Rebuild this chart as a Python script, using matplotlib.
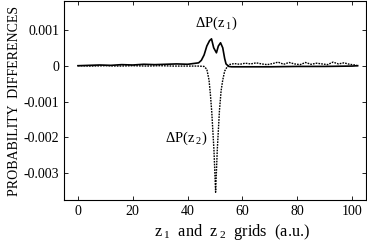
import matplotlib
matplotlib.use('Agg')
import matplotlib.pyplot as plt

plt.rcParams['font.family'] = ['Liberation Serif', 'DejaVu Serif']
plt.rcParams['mathtext.fontset'] = 'custom'
plt.rcParams['mathtext.rm'] = 'Liberation Serif'
plt.rcParams['mathtext.it'] = 'Liberation Serif'

# delta P(z1), solid line (values in units of 1e-4)
z1_grid = [0, 4, 8, 12, 16, 20, 24, 28, 32, 36, 40, 42, 44, 45, 46, 47, 48,
           48.7, 49.5, 50.5, 51.2, 52, 52.8, 53.5, 54, 55, 56, 60, 70, 80,
           90, 100, 102]
z1_diff = [0.0, 0.1, 0.2, 0.1, 0.3, 0.2, 0.4, 0.3, 0.4, 0.5, 0.4, 0.6, 0.8,
           1.5, 3.0, 5.5, 7.0, 7.5, 5.0, 3.6, 5.5, 6.4, 5.0, 2.0, 0.5, -0.2,
           -0.3, -0.3, -0.3, -0.2, -0.2, -0.1, 0.0]

# delta P(z2), dashed line (values in units of 1e-4)
z2_grid = [0, 5, 10, 15, 20, 25, 30, 35, 40, 44, 46, 47, 47.8, 48.3, 48.8,
           49.6, 50.2, 50.8, 51.6, 52.2, 52.8, 53.5, 54.5, 55, 57, 59, 61,
           63, 65, 67, 69, 71, 73, 75, 77, 79, 81, 83, 85, 87, 89, 91, 93,
           95, 97, 99, 101, 102]
z2_diff = [0.0, -0.1, 0.0, -0.1, 0.0, -0.1, 0.0, -0.1, -0.1, -0.1, -0.2,
           -1.0, -4.0, -8.0, -13.0, -23.6, -35.3, -23.6, -12.5, -7.0, -4.0,
           -1.5, -0.2, 0.3, 0.6, 0.4, 0.7, 0.5, 0.8, 0.5, 0.3, 0.6, 1.0, 0.4,
           0.9, 0.5, 0.3, 0.9, 0.4, 0.7, 0.5, 0.3, 1.0, 0.5, 0.8, 0.4, 0.2, 0.0]

fig = plt.figure(figsize=(3.67, 2.44), dpi=100)
ax = fig.add_axes([0.175, 0.18, 0.822, 0.815])

ax.plot(z1_grid, [v * 1e-4 for v in z1_diff], color='black', lw=1.2)
ax.plot(z2_grid, [v * 1e-4 for v in z2_diff], color='black', lw=1.0,
        dashes=(1.2, 0.8))

ax.set_xlim(-5, 105)
ax.set_ylim(-0.00375, 0.0018)
ax.set_xticks([0, 20, 40, 60, 80, 100])
ax.set_yticks([0.001, 0, -0.001, -0.002, -0.003])
ax.set_yticklabels(['0.001', '0', '-0.001', '-0.002', '-0.003'])
ax.tick_params(direction='in', top=True, right=True, labelsize=10,
               length=3, width=0.6)
for s in ax.spines.values():
    s.set_linewidth(0.8)

ax.set_ylabel('PROBABILITY  DIFFERENCES', fontsize=10, labelpad=2)
ax.set_xlabel(r'z$\,_1$  and  z$\,_2$  grids  (a.u.)', fontsize=11.8,
              labelpad=2)
ax.xaxis.set_label_coords(0.556, -0.11)

ax.text(50.5, 0.00117, r'$\Delta$P(z$\,_1$)', fontsize=10.5, ha='center',
        va='center')
ax.text(39.5, -0.00202, r'$\Delta$P(z$\,_2$)', fontsize=10.5, ha='center',
        va='center')

fig.savefig('out.png', dpi=100)
